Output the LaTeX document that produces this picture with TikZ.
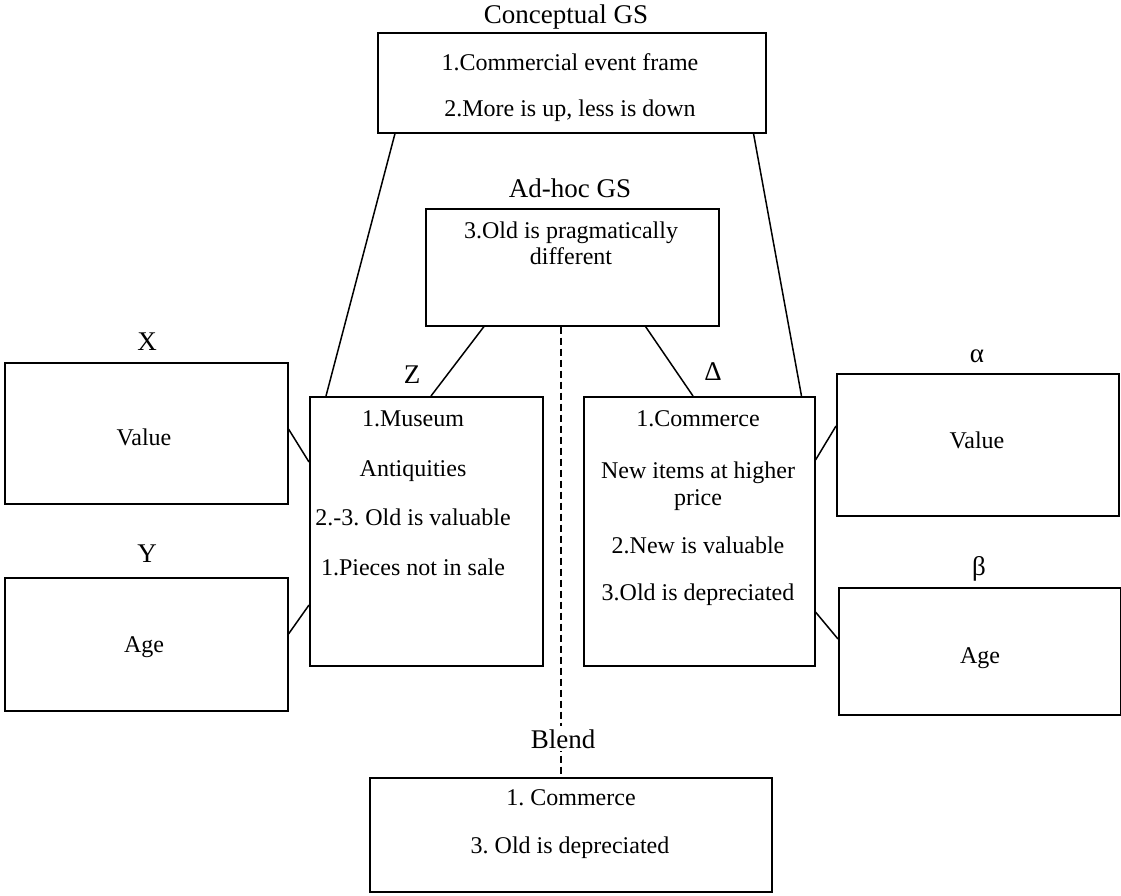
\documentclass[tikz,border=0pt]{standalone}
\usepackage{fontspec}
\setmainfont{Liberation Serif}
\usetikzlibrary{calc}
\frenchspacing
\begin{document}
\begin{tikzpicture}[x=1pt,y=-1pt,
  frame/.style={draw, line width=1.5pt, inner sep=0pt, anchor=north west},
  body/.style={anchor=base, inner sep=0pt, font=\frenchspacing\fontsize{24}{27}\selectfont},
  head/.style={anchor=base, inner sep=0pt, font=\fontsize{27}{30}\selectfont},
  link/.style={line width=1.5pt},
  blendlink/.style={line width=1.5pt, dash pattern=on 7pt off 4pt}]
\useasboundingbox (0,0) rectangle (1121,895);

% boxes
\node[frame, minimum width=388, minimum height=100] (cgs) at (377,32) {};
\node[frame, minimum width=293, minimum height=117] (adhoc) at (425,208) {};
\node[frame, minimum width=283, minimum height=141] (xbox) at (4,362) {};
\node[frame, minimum width=283, minimum height=133] (ybox) at (4,577) {};
\node[frame, minimum width=233, minimum height=269] (zbox) at (309,396) {};
\node[frame, minimum width=231, minimum height=269] (dbox) at (583,396) {};
\node[frame, minimum width=282, minimum height=142] (abox) at (836,373) {};
\node[frame, minimum width=282, minimum height=127] (bbox) at (838,587) {};
\node[frame, minimum width=402, minimum height=114] (blend) at (369,777) {};

% connectors
\draw[link] ($(cgs.south west)+(18,0)$) -- ($(zbox.north west)+(17,0)$);
\draw[link] ($(cgs.south east)+(-13,0)$) -- ($(dbox.north east)+(-14,0)$);
\draw[link] ($(adhoc.south west)+(59,0)$) -- ($(zbox.north west)+(122,0)$);
\draw[link] ($(adhoc.south east)+(-74,0)$) -- ($(dbox.north west)+(110,0)$);
\draw[link] ($(xbox.north east)+(0,67)$) -- ($(zbox.north west)+(0,66)$);
\draw[link] ($(ybox.north east)+(0,57)$) -- ($(zbox.north west)+(0,209)$);
\draw[link] ($(dbox.north east)+(0,64)$) -- ($(abox.north west)+(0,53)$);
\draw[link] ($(dbox.north east)+(0,216)$) -- ($(bbox.north west)+(0,52)$);
\draw[blendlink] ($(adhoc.south west)+(136,0)$) -- ($(blend.north west)+(192,0)$);

% headings
\node[head] (hcgs) at (566,23) {Conceptual GS};
\node[head] (hadhoc) at (570,197) {Ad-hoc GS};
\node[head] (hx) at (147,350) {X};
\node[head] (hy) at (147,562) {Y};
\node[head] (hz) at (412,383) {Z};
\node[head] (hd) at (713,380) {Δ};
\node[head] (ha) at (977,362) {α};
\node[head] (hb) at (979,575) {β};
\node[head, fill=white, inner sep=3pt] (hblend) at (563,748) {Blend};

% contents
\node[body] (c1) at (570,70) {1.Commercial event frame};
\node[body] (c2) at (570,116) {2.More is up, less is down};
\node[body] (a1) at (571,238) {3.Old is pragmatically};
\node[body] (a2) at (571,264) {different};
\node[body] (x1) at (144,445) {Value};
\node[body] (y1) at (144,652) {Age};
\node[body] (z1) at (413,426) {1.Museum};
\node[body] (z2) at (413,476) {Antiquities};
\node[body] (z3) at (413,525) {2.-3. Old is valuable};
\node[body] (z4) at (413,575) {1.Pieces not in sale};
\node[body] (d1) at (698,426) {1.Commerce};
\node[body] (d2) at (698,478) {New items at higher};
\node[body] (d3) at (698,505) {price};
\node[body] (d4) at (698,553) {2.New is valuable};
\node[body] (d5) at (698,600) {3.Old is depreciated};
\node[body] (al1) at (977,448) {Value};
\node[body] (be1) at (980,663) {Age};
\node[body] (b1) at (571,805) {1. Commerce};
\node[body] (b2) at (570,853) {3. Old is depreciated};
\end{tikzpicture}
\end{document}
